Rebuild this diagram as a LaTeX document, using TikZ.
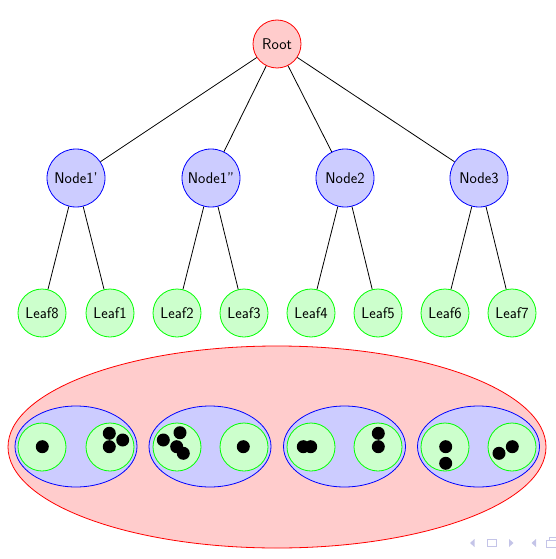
\documentclass[tikz,border=0pt]{standalone}
\usetikzlibrary{shapes.geometric}
\definecolor{navcol}{RGB}{196,196,232}
\begin{document}
\begin{tikzpicture}[x=1pt,y=-1pt,
  font=\sffamily\fontsize{15.5}{18}\selectfont,
  rootnode/.style={circle,draw=red,fill=red!20,line width=0.8pt,minimum size=48pt,inner sep=0pt},
  midnode/.style={circle,draw=blue,fill=blue!20,line width=0.8pt,minimum size=58pt,inner sep=0pt},
  leafnode/.style={circle,draw=green,fill=green!20,line width=0.8pt,minimum size=48pt,inner sep=0pt},
  edge/.style={draw=black,line width=0.8pt},
  bigset/.style={ellipse,draw=red,fill=red!20,line width=0.8pt,minimum width=538pt,minimum height=202pt,inner sep=0pt},
  subset/.style={ellipse,draw=blue,fill=blue!20,line width=0.8pt,minimum width=122pt,minimum height=81pt,inner sep=0pt},
  dot/.style={circle,fill=black,minimum size=13pt,inner sep=0pt},
  nav/.style={fill=navcol,draw=none}]
\useasboundingbox (0,0) rectangle (556,559);

% tree
\node[rootnode] (root) at (277,44) {Root};
\node[midnode] (n1a) at (76,178) {Node1'};
\node[midnode] (n1b) at (211,178) {Node1''};
\node[midnode] (n2) at (345,178) {Node2};
\node[midnode] (n3) at (479,178) {Node3};
\node[leafnode] (l8) at (42,313) {Leaf8};
\node[leafnode] (l1) at (110,313) {Leaf1};
\node[leafnode] (l2) at (177,313) {Leaf2};
\node[leafnode] (l3) at (244,313) {Leaf3};
\node[leafnode] (l4) at (311,313) {Leaf4};
\node[leafnode] (l5) at (378,313) {Leaf5};
\node[leafnode] (l6) at (445,313) {Leaf6};
\node[leafnode] (l7) at (512,313) {Leaf7};
\foreach \c in {n1a,n1b,n2,n3} \draw[edge] (root) -- (\c);
\draw[edge] (n1a) -- (l8); \draw[edge] (n1a) -- (l1);
\draw[edge] (n1b) -- (l2); \draw[edge] (n1b) -- (l3);
\draw[edge] (n2) -- (l4);  \draw[edge] (n2) -- (l5);
\draw[edge] (n3) -- (l6);  \draw[edge] (n3) -- (l7);

% nested sets
\node[bigset] (all) at (277,447) {};
\node[subset] (sa) at (76,446.5) {};
\node[subset] (sb) at (210,446.5) {};
\node[subset] (sc) at (344.5,446.5) {};
\node[subset] (sd) at (478.5,446.5) {};
\foreach \n/\x in {c8/42,c1/110,c2/177,c3/244,c4/311,c5/378,c6/445,c7/512}
  \node[leafnode] (\n) at (\x,447) {};

% points
\node[dot] (p1) at (42.3,446.7) {};
\node[dot] (p2) at (109.3,433.3) {};
\node[dot] (p3) at (122.7,440) {};
\node[dot] (p4) at (109.3,446.7) {};
\node[dot] (p5) at (163.3,440) {};
\node[dot] (p6) at (180,432.7) {};
\node[dot] (p7) at (176.7,446.7) {};
\node[dot] (p8) at (183.3,453.3) {};
\node[dot] (p9) at (243.3,446.7) {};
\node[dot] (p10) at (303.3,446.7) {};
\node[dot] (p11) at (310.7,446.7) {};
\node[dot] (p12) at (378.3,433.3) {};
\node[dot] (p13) at (378.3,446.7) {};
\node[dot] (p14) at (445.7,446.7) {};
\node[dot] (p15) at (445.7,463.3) {};
\node[dot] (p16) at (512.3,446.7) {};
\node[dot] (p17) at (499,453.3) {};

% navigation symbols
\fill[nav] (470,543) -- (474.5,539) -- (474.5,547) -- cycle;
\draw[navcol,line width=1.2pt] (487.5,539.5) rectangle (496.5,546.5);
\fill[nav] (513.5,543) -- (509,539) -- (509,547) -- cycle;
\fill[nav] (531.5,543) -- (536,539) -- (536,547) -- cycle;
\draw[navcol,line width=1.2pt] (546.5,540.5) rectangle (557,547.5);
\draw[navcol,line width=1.2pt] (549.5,540.5) -- (549.5,537.5) -- (557,537.5);
\end{tikzpicture}
\end{document}
